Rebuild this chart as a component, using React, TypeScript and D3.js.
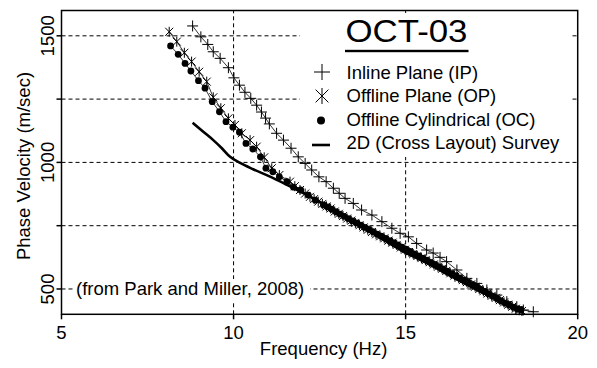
import React from "react";
import * as d3 from "d3";

const W = 597;
const H = 368;

const xTicks = [5, 10, 15, 20];
const yTicks = [500, 750, 1000, 1250, 1500];
const yLabelTicks = [500, 1000, 1500];
const xGrid = [10, 15];
const yGrid = [500, 750, 1000, 1250, 1500];

const ipFreq = [8.81, 9.05, 9.25, 9.41, 9.61, 9.85, 10.01, 10.17, 10.33, 10.5, 10.67, 10.81, 10.93, 11.04, 11.25, 11.45, 11.67, 11.88, 12.08, 12.27, 12.48, 12.69, 12.9, 13.07, 13.24, 13.48, 13.72, 14.02, 14.31, 14.6, 14.84, 15.08, 15.32, 15.61, 15.8, 16.0, 16.19, 16.49, 16.78, 17.07, 17.36, 17.65, 17.94, 18.23, 18.42, 18.71];
const ipVel = [1539, 1496, 1466, 1437, 1411, 1374, 1334, 1305, 1277, 1253, 1226, 1199, 1175, 1152, 1115, 1088, 1056, 1022, 996, 970, 943, 924, 898, 878, 858, 838, 812, 792, 766, 740, 720, 706, 680, 654, 642, 625, 608, 575, 542, 522, 496, 476, 450, 430, 417, 410];

const opFreq = [8.13, 8.35, 8.57, 8.78, 9.0, 9.22, 9.41, 9.63, 9.85, 10.04, 10.24, 10.48, 10.67, 10.89, 11.11, 11.33, 11.64, 11.78, 11.93, 12.08, 12.22, 12.34, 12.46, 12.58, 12.7, 12.82, 12.94, 13.06, 13.18, 13.3, 13.42, 13.54, 13.66, 13.78, 13.9, 14.02, 14.14, 14.26, 14.38, 14.5, 14.62, 14.74, 14.86, 14.98, 15.1, 15.22, 15.34, 15.46, 15.58, 15.7, 15.82, 15.94, 16.06, 16.18, 16.3, 16.42, 16.54, 16.66, 16.78, 16.9, 17.02, 17.14, 17.26, 17.38, 17.5, 17.62, 17.74, 17.86, 17.98, 18.1, 18.2, 18.3, 18.38];
const opVel = [1516, 1477, 1433, 1398, 1358, 1319, 1257, 1214, 1174, 1148, 1115, 1088, 1062, 1020, 977, 950, 924, 906, 891, 877, 864, 855, 845, 836, 826, 818, 806, 797, 788, 778, 770, 761, 752, 743, 734, 725, 716, 708, 700, 691, 683, 674, 664, 655, 646, 638, 630, 622, 614, 606, 597, 588, 580, 571, 562, 553, 544, 535, 527, 518, 509, 500, 491, 482, 473, 465, 456, 447, 438, 430, 422, 416, 413];

const ocFreq = [8.17, 8.39, 8.59, 8.76, 8.98, 9.17, 9.38, 9.59, 9.78, 9.98, 10.17, 10.36, 10.56, 10.78, 10.94, 11.14, 11.33, 11.55, 11.74, 11.95, 12.17, 12.37, 12.61, 12.73, 12.85, 12.97, 13.09, 13.21, 13.33, 13.45, 13.57, 13.69, 13.81, 13.93, 14.05, 14.17, 14.29, 14.41, 14.53, 14.65, 14.77, 14.89, 15.01, 15.13, 15.25, 15.37, 15.49, 15.61, 15.73, 15.85, 15.97, 16.09, 16.21, 16.33, 16.45, 16.57, 16.69, 16.81, 16.93, 17.05, 17.17, 17.29, 17.41, 17.53, 17.65, 17.77, 17.89, 18.01, 18.13, 18.24, 18.35];
const ocVel = [1460, 1427, 1391, 1361, 1323, 1293, 1240, 1200, 1161, 1139, 1119, 1075, 1053, 1022, 977, 963, 943, 924, 902, 891, 871, 851, 832, 824, 815, 805, 796, 787, 778, 769, 761, 752, 743, 735, 726, 717, 709, 700, 691, 683, 674, 665, 657, 648, 639, 631, 622, 614, 605, 597, 588, 579, 570, 561, 553, 544, 535, 526, 517, 508, 499, 490, 480, 471, 462, 453, 444, 436, 428, 421, 417];

const d2Freq = [8.81, 9.12, 9.41, 9.66, 9.9, 10.19, 10.57, 11.06, 11.45, 11.84, 12.32, 12.8, 13.47, 14.2, 14.92, 15.65, 16.38, 17.1, 17.74, 18.27];
const d2Vel = [1157, 1121, 1088, 1056, 1022, 998, 973, 944, 918, 892, 858, 822, 766, 707, 649, 600, 546, 495, 455, 420];

const seriesNames = ["Inline Plane (IP)", "Offline Plane (OP)", "Offline Cylindrical (OC)", "2D (Cross Layout) Survey"];
const chartTitle = "OCT-03";
const sourceNote = "(from Park and Miller, 2008)";

const FONT = "'Liberation Sans', Arial, Helvetica, sans-serif";

export default function App() {
  const x = d3.scaleLinear().domain([5, 20]).range([61.5, 577.7]);
  const y = d3.scaleLinear().domain([400, 1600]).range([314.3, 10.5]);
  const [x0, x1] = x.range();
  const [y0, y1] = y.range();

  const line = d3
    .line<[number, number]>()
    .x((d) => x(d[0]))
    .y((d) => y(d[1]));

  const ip: [number, number][] = ipFreq.map((f, i) => [f, ipVel[i]]);
  const op: [number, number][] = opFreq.map((f, i) => [f, opVel[i]]);
  const oc: [number, number][] = ocFreq.map((f, i) => [f, ocVel[i]]);
  const d2: [number, number][] = d2Freq.map((f, i) => [f, d2Vel[i]]);

  const plus = (cx: number, cy: number, s: number, key: string) => (
    <path key={key} d={`M${cx - s},${cy}H${cx + s}M${cx},${cy - s}V${cy + s}`} stroke="#000" strokeWidth={1} fill="none" />
  );
  const aster = (cx: number, cy: number, s: number, key: string) => {
    const k = s * 0.8;
    return (
      <path
        key={key}
        d={`M${cx},${cy - s}V${cy + s}M${cx - k},${cy - k}L${cx + k},${cy + k}M${cx - k},${cy + k}L${cx + k},${cy - k}`}
        stroke="#000"
        strokeWidth={1}
        fill="none"
      />
    );
  };

  const legendX = 346.5;
  const legendRows = [78.5, 102, 125.5, 149];

  return (
    <svg width={W} height={H} style={{ position: "absolute", left: 0, top: 0, background: "#fff" }} fontFamily={FONT}>
      <rect x={0} y={0} width={W} height={H} fill="#fff" />
      {/* grid */}
      {yGrid.map((v) => (
        <line key={"gy" + v} x1={x0} x2={x1} y1={y(v)} y2={y(v)} stroke="#000" strokeWidth={1} strokeDasharray="4,3" />
      ))}
      {xGrid.map((v) => (
        <line key={"gx" + v} x1={x(v)} x2={x(v)} y1={y0} y2={y1} stroke="#000" strokeWidth={1} strokeDasharray="4,3" />
      ))}
      {/* legend background */}
      <rect x={300} y={13} width={271} height={144} fill="#fff" />
      {/* source note */}
      <rect x={74} y={279} width={236} height={22} fill="#fff" />
      <text x={76} y={295} fontSize={18.5} fill="#000">{sourceNote}</text>

      {/* series */}
      <path d={line(ip) || ""} fill="none" stroke="#000" strokeWidth={0.8} />
      {ip.map((d, i) => plus(x(d[0]), y(d[1]), 5.5, "ip" + i))}
      <path d={line(op) || ""} fill="none" stroke="#000" strokeWidth={0.8} />
      {op.map((d, i) => aster(x(d[0]), y(d[1]), 5, "op" + i))}
      <path d={line(oc) || ""} fill="none" stroke="#000" strokeWidth={0.8} />
      {oc.map((d, i) => (
        <circle key={"oc" + i} cx={x(d[0])} cy={y(d[1])} r={3.4} fill="#000" />
      ))}
      <path d={d3.line<[number, number]>().x((d) => x(d[0])).y((d) => y(d[1])).curve(d3.curveMonotoneX)(d2) || ""} fill="none" stroke="#000" strokeWidth={2.6} />

      {/* frame */}
      <rect x={x0} y={y1} width={x1 - x0} height={y0 - y1} fill="none" stroke="#000" strokeWidth={1.5} />
      {xTicks.map((t) => (
        <g key={"xt" + t}>
          <line x1={x(t)} x2={x(t)} y1={y0} y2={y0 + 5} stroke="#000" strokeWidth={1.5} />
          <text x={x(t)} y={338.5} fontSize={18.5} textAnchor="middle" fill="#000">{t}</text>
        </g>
      ))}
      {yTicks.map((t) => (
        <line key={"yt" + t} x1={x0 - 5} x2={x0} y1={y(t)} y2={y(t)} stroke="#000" strokeWidth={1.5} />
      ))}
      {yLabelTicks.map((t) => (
        <text key={"yl" + t} transform={`translate(53.5,${y(t)}) rotate(-90)`} fontSize={18.5} textAnchor="middle" fill="#000">{t}</text>
      ))}
      <text x={(x0 + x1) / 2 + 4} y={355} fontSize={18.5} textAnchor="middle" fill="#000">Frequency (Hz)</text>
      <text transform={`translate(30,166) rotate(-90)`} fontSize={18.5} textAnchor="middle" fill="#000">Phase Velocity (m/sec)</text>

      {/* legend */}
      <text x={345.5} y={42} fontSize={31} fill="#000" textLength={122} lengthAdjust="spacingAndGlyphs">{chartTitle}</text>
      <rect x={345} y={49.8} width={123.5} height={2.4} fill="#000" />
      {plus(322, 72, 8, "lp")}
      {aster(322, 96, 8, "la")}
      <circle cx={321} cy={120.5} r={4} fill="#000" />
      <line x1={312} x2={330} y1={145} y2={145} stroke="#000" strokeWidth={2.6} />
      {seriesNames.map((n, i) => (
        <text key={n} x={legendX} y={legendRows[i]} fontSize={18.5} fill="#000">{n}</text>
      ))}
    </svg>
  );
}
